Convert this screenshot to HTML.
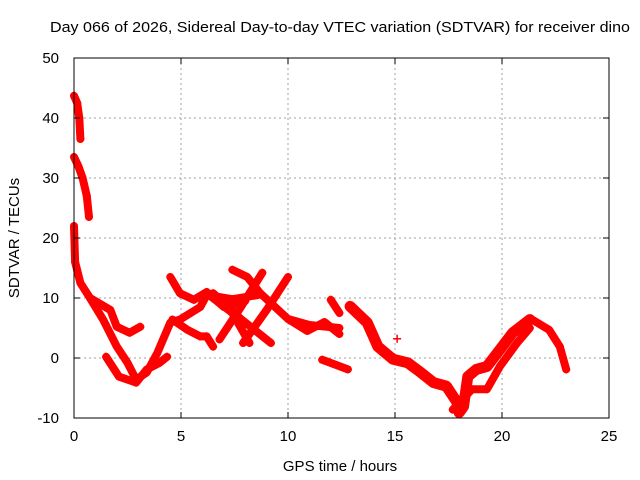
<!DOCTYPE html>
<html><head><meta charset="utf-8"><style>
body{margin:0;background:#fff}
svg{display:block;font-family:"Liberation Sans",sans-serif}
</style></head><body>
<svg id="chart" width="640" height="480" viewBox="0 0 640 480" xmlns="http://www.w3.org/2000/svg">
<text x="50" y="32" font-size="15" textLength="580" lengthAdjust="spacingAndGlyphs">Day 066 of 2026, Sidereal Day-to-day VTEC variation (SDTVAR) for receiver dino</text>
<g id="grid"></g>
<g id="marks"></g>
<rect x="74" y="58" width="535" height="360" fill="none" stroke="#000" stroke-width="1"/>
<g id="axes"></g>
<text x="340" y="471" font-size="15" text-anchor="middle">GPS time / hours</text>
<text transform="translate(19,238) rotate(-90)" font-size="15" text-anchor="middle">SDTVAR / TECUs</text>
</svg>
<script>
const xTicks=[0,5,10,15,20,25];
const yTicks=[-10,0,10,20,30,40,50];
// tracks: hours
const trackT=[
[0,0.15,0.25,0.3],
[0,0.2,0.4,0.6,0.7],
[0,0.05,0.3,0.75],
[0.75,1.7,2.0,2.6,3.1],
[0.75,1.36,2.0,2.5,2.9,3.4,3.9,4.5,4.95,5.9,6.2,7.4,8.6],
[1.5,2.1,2.9,3.4,4.0,4.35],
[4.5,4.95,5.6,6.2,7.0,8.0],
[4.6,5.3,5.9,6.2,6.5],
[7.4,8.1,8.7,10,11,12.4],
[8.8,7.8,6.8],
[10,9,7.9],
[6.2,7.4,8.2],
[6.5,7.8,9.2],
[10,10.9,11.7,12.4],
[11.6,12.8],
[12,12.4],
[12.9,13.7,14.2,14.9,15.6,16.2,16.8,17.4,17.9,18.0,18.2,18.4,18.8,19.3,19.9,20.5,21.3],
[17.7,18.6,19.3,19.9,20.7,21.3],
[21.4,22.2,22.7,23.0],
[15.1]
];
// tracks: TECU
const trackV=[
[43.7,42.5,40,36.5],
[33.5,32,30,27,23.5],
[22,16,12.5,10],
[10,8,5.2,4.2,5.2],
[10,6.4,1.9,-0.8,-3.6,-2.4,0.9,5.9,6.4,8.5,10.5,9.8,10.5],
[0.2,-3.1,-4.1,-1.9,-0.8,0.2],
[13.5,10.8,9.7,11.0,8.5,9.5],
[6.4,4.7,3.6,3.6,1.9],
[14.7,13.5,10.8,6.5,5.5,5.0],
[14.2,8.5,3.1],
[13.5,8,2.5],
[10.8,7.5,2.5],
[10.8,6.5,2.5],
[6.5,4.5,6.0,4.0],
[-0.3,-1.9],
[9.7,7.5],
[8.6,5.9,1.9,-0.2,-0.8,-2.4,-4.1,-4.7,-7.4,-9.1,-8.1,-3.1,-1.9,-1.4,1.4,4.2,6.4],
[-8.6,-5.2,-5.2,-1.4,2.5,5.0],
[6.4,4.7,1.9,-1.9],
[3.2]
];
const X0=74,X1=609,Y0=418,Y1=58;
function xs(t){return X0+(t-0)/(25-0)*(X1-X0);}
function ys(v){return Y0-(v+10)/(60)*(Y0-Y1);}
const NS="http://www.w3.org/2000/svg";
const grid=document.getElementById('grid'),axes=document.getElementById('axes'),marks=document.getElementById('marks');
function mk(tag,attrs,parent){const e=document.createElementNS(NS,tag);for(const k in attrs)e.setAttribute(k,attrs[k]);parent.appendChild(e);return e;}
xTicks.forEach(t=>{
  const x=xs(t);
  if(t>0&&t<25){const g=mk('line',{x1:x,y1:Y1,x2:x,y2:Y0,stroke:'#a0a0a0','stroke-dasharray':'2,3'},grid);
  
  }
  mk('line',{x1:x,y1:Y0,x2:x,y2:Y0-6,stroke:'#000'},axes);
  mk('line',{x1:x,y1:Y1,x2:x,y2:Y1+6,stroke:'#000'},axes);
  const l=mk('text',{x:x,y:Y0+23,'font-size':15,'text-anchor':'middle'},axes);
  l.textContent=t;
  
  
});
yTicks.forEach(v=>{
  const y=ys(v);
  if(v>-10&&v<50){const g=mk('line',{x1:X0,y1:y,x2:X1,y2:y,stroke:'#a0a0a0','stroke-dasharray':'2,3'},grid);
  
  }
  mk('line',{x1:X0,y1:y,x2:X0+6,y2:y,stroke:'#000'},axes);
  mk('line',{x1:X1,y1:y,x2:X1-6,y2:y,stroke:'#000'},axes);
  const l=mk('text',{x:X0-15,y:y+5,'font-size':15,'text-anchor':'end'},axes);
  l.textContent=v;
  
  
});
trackT.forEach((ts,i)=>{
  const vs=trackV[i];
  const pts=ts.map((t,j)=>xs(t).toFixed(1)+','+ys(vs[j]).toFixed(1)).join(' ');
  if(ts.length>1){
    const p=mk('polyline',{points:pts,fill:'none',stroke:'#ff0000','stroke-width':(i===16?11:8),'stroke-linejoin':'round','stroke-linecap':'round'},marks);
    
    
  }
  ts.forEach((t,j)=>{
    const x=xs(t),y=ys(vs[j]);
    const m=mk('path',{d:`M${x-4},${y}h8M${x},${y-4}v8`,stroke:'#ff0000','stroke-width':1.5},marks);
    
    
  });
});
</script>
</body></html>
